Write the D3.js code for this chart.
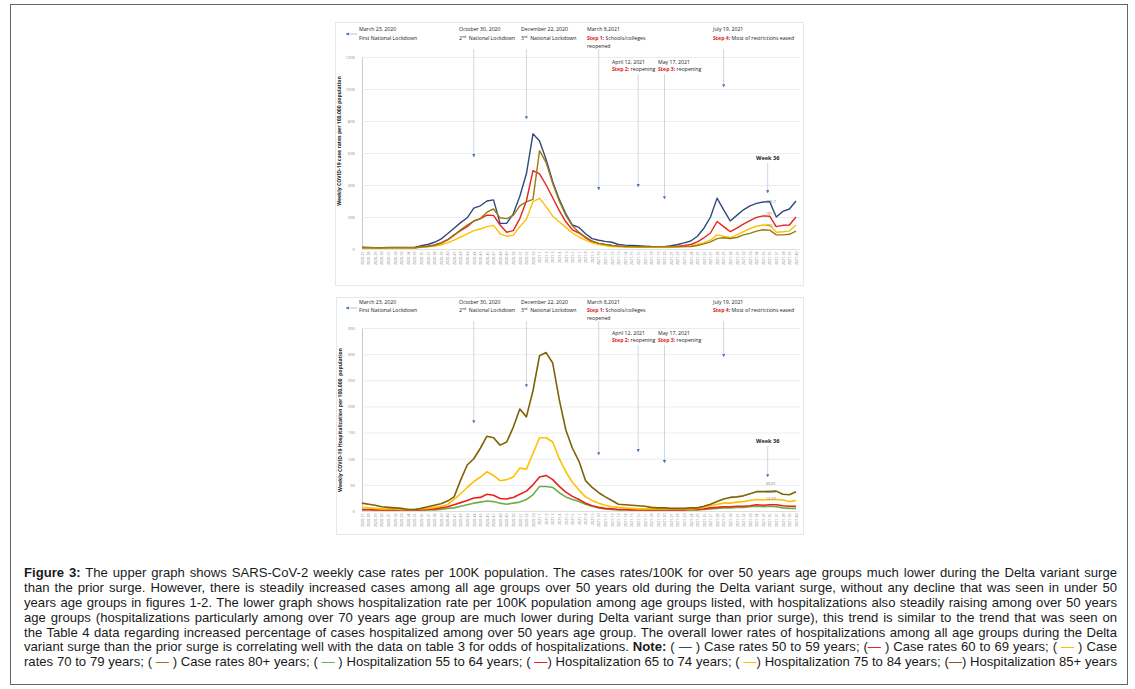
<!DOCTYPE html>
<html>
<head>
<meta charset="utf-8">
<script src="https://cdn.jsdelivr.net/npm/d3@7"></script>
<style>
  body { margin: 0; background: #fff; }
  svg { display: block; }
  .anno { font-family: "Open Sans", sans-serif; font-size: 5.2px; fill: #1a1a1a; }
  .cap { font-family: "Liberation Sans", Arial, sans-serif; font-size: 13px; fill: #1a1a1a; white-space: pre; }
</style>
</head>
<body>
<svg id="fig" width="1135" height="689"></svg>
<script>
// week categories 2020-27 .. 2021-40
const weeks = [
  ...d3.range(27, 54).map((w) => `2020-${w}`),
  ...d3.range(1, 41).map((w) => `2021-${w}`)
];

// upper graph: weekly case rates per 100K
const case50_59 = [12,10,8,8,9,10,9,9,10, 20,28,42,62,95,130,165,195,255,270,300,307,
  160,160,220,330,470,720,675,560,420,310,220,150,135,95,65,55,48,42,
  28,24,22,20,18,16,15,15,20,28,38,50,
  80,130,200,318,245,175,210,245,270,285,294,296,200,235,250,300];
const case60_69 = [8,7,6,6,7,8,7,7,8, 14,18,25,38,58,88,115,140,175,190,212,210,
  150,105,115,190,300,490,470,400,320,240,170,120,100,70,45,35,28,22,
  18,15,14,13,12,12,12,13,15,18,22,28,
  45,70,100,172,140,108,130,155,178,198,207,205,140,148,150,200];
const case70_79 = [6,5,4,4,5,6,5,5,6, 10,14,18,25,38,55,75,95,115,125,140,148,
  95,80,85,140,186,296,317,265,205,170,135,100,75,55,38,28,22,16,
  13,12,11,10,10,10,10,11,12,14,16,18,
  28,40,55,88,80,70,88,108,128,142,150,148,105,108,112,150];
const case80plus = [8,7,6,6,7,8,7,7,8, 12,16,22,35,55,85,120,150,175,190,230,250,
  195,190,210,270,295,310,615,540,410,300,210,145,105,75,50,35,28,22,
  18,16,15,14,14,13,13,13,13,14,15,16,
  22,32,45,65,70,66,72,88,98,112,120,118,88,88,92,112];

// lower graph: weekly hospitalization per 100K
const hosp55_64 = [2,2,2,2,2,2,2,2,2,2,2,2,
  3,5,6,9,12,15,17,19,18,15,13,15,17,22,31,47,47,45,35,27,22,18,13,9,6,4,3,2,
  2,2,2,2,2,2,2,2,2,2,2,2,
  3,4,5,6,6,7,7,8,9,8,9,8,6,5,5];
const hosp65_74 = [3,3,2,2,2,2,2,2,2,2,3,
  4,6,8,12,16,20,25,26,32,30,24,23,26,32,38,50,65,68,60,47,36,28,22,15,10,7,5,4,3,3,
  2,2,2,2,2,2,2,2,2,3,
  3,4,6,7,8,8,9,9,10,12,11,12,12,10,9,9];
const hosp75_84 = [7,6,5,4,4,4,3,3,3,4,5,7,9,
  12,22,33,45,56,65,75,68,58,60,65,82,80,110,140,140,132,100,75,55,40,27,20,15,11,8,7,6,5,
  4,4,4,4,4,4,4,4,4,
  5,7,10,13,15,15,17,18,20,22,21,22,22,21,18,20];
const hosp85plus = [15,13,11,8,7,6,5,3,3,5,8,11,14,
  19,27,59,88,100,120,143,140,126,132,160,195,180,230,297,303,283,213,155,120,95,58,45,35,27,20,
  13,12,11,10,9,7,6,6,5,5,5,6,
  6,9,13,18,23,26,27,29,33,37,37,37,38,32,31,37];

const caseTicks = d3.range(0, 1201, 200);
const hospTicks = d3.range(0, 351, 50);

// policy events: where each arrow ends (case chart value, hospital chart value)
const events = [
  { week: null, date: "March 23, 2020", label: [{ t: "First National Lockdown" }], tx: 359, row: 0 },
  { week: "2020-44", date: "October 30, 2020", label: [{ t: "2" }, { t: "nd", sup: true }, { t: "  National Lockdown" }], tx: 459, row: 0, caseEnd: 575, hospEnd: 168 },
  { week: "2020-52", date: "December 22, 2020", label: [{ t: "3" }, { t: "rd", sup: true }, { t: "  National Lockdown" }], tx: 521, row: 0, caseEnd: 812, hospEnd: 237 },
  { week: "2021-10", date: "March 8,2021", label: [{ t: "Step 1:", red: true }, { t: " Schools/colleges" }], extra: "reopened", tx: 587, row: 0, caseEnd: 369, hospEnd: 107 },
  { week: "2021-16", date: "April 12, 2021", label: [{ t: "Step 2:", red: true }, { t: " reopening" }], tx: 612, row: 1, caseEnd: 388, hospEnd: 113 },
  { week: "2021-20", date: "May 17, 2021", label: [{ t: "Step 3:", red: true }, { t: " reopening" }], tx: 658, row: 1, caseEnd: 312, hospEnd: 92 },
  { week: "2021-29", date: "July 19, 2021", label: [{ t: "Step 4:", red: true }, { t: " Most of restrictions eased" }], tx: 713, row: 0, caseEnd: 1012, hospEnd: 295 }
];
const week36 = "2021-36";
const caseWeek36Labels = ["295.7", "181.6", "150.3"];
const hospWeek36Labels = ["39.01", "22.45", "12.27"];

const NAVY = "#2f4b7c", RED = "#e8231d", YELLOW = "#ffc000", OLIVE = "#9a7a12", OLIVE_D = "#7e6205", GREEN = "#70ad47";

const svg = d3.select("#fig");

svg.append("rect")
  .attr("x", 10.5).attr("y", 4.5).attr("width", 1117).attr("height", 680)
  .attr("fill", "none").attr("stroke", "#666").attr("stroke-width", 1);

const defs = svg.append("defs");
defs.append("marker")
  .attr("id", "ah").attr("viewBox", "0 0 10 10").attr("refX", 9).attr("refY", 5)
  .attr("markerWidth", 3.2).attr("markerHeight", 3.2).attr("markerUnits", "userSpaceOnUse")
  .attr("orient", "auto")
  .append("path").attr("d", "M0,0L10,5L0,10z").attr("fill", "#4676b4");

const x = d3.scalePoint().domain(weeks).range([362, 796]);

const panels = [
  {
    frame: [335, 22, 468, 263], y0: 249, y1: 57, ticks: caseTicks, lw: 1.4,
    title: "Weekly COVID-19 case rates per 100,000 population", titleX: 341, titleY: 141,
    series: [
      { v: case50_59, c: NAVY }, { v: case60_69, c: RED }, { v: case70_79, c: YELLOW }, { v: case80plus, c: OLIVE }
    ],
    rows: [[31, 39.5, 47.5], [63.5, 71]], lineTop: [49, 74], endKey: "caseEnd", arrowY: 34,
    weekTextY: 160, weekLineTop: 163, weekEnd: 350,
    labels: caseWeek36Labels, labelDy: [1.5, -1, 1.5]
  },
  {
    frame: [336, 297, 467, 237], y0: 511, y1: 328, ticks: hospTicks, lw: 1.6,
    title: "Weekly COVID-19 Hospitalization per 100,000  population", titleX: 342, titleY: 420,
    series: [
      { v: hosp55_64, c: GREEN }, { v: hosp65_74, c: RED }, { v: hosp75_84, c: YELLOW }, { v: hosp85plus, c: OLIVE_D }
    ],
    rows: [[304, 312, 320], [334.5, 342]], lineTop: [321, 345], endKey: "hospEnd", arrowY: 308,
    weekTextY: 442.5, weekLineTop: 446, weekEnd: 65,
    labels: hospWeek36Labels, labelOf: [3, 2, 1], labelDy: [-7, -6, -5]
  }
];

panels.forEach((p) => {
  const g = svg.append("g");
  const yMax = p.ticks[p.ticks.length - 1];
  const y = d3.scaleLinear().domain([0, yMax]).range([p.y0, p.y1]);

  g.append("rect")
    .attr("x", p.frame[0] + 0.5).attr("y", p.frame[1] + 0.5)
    .attr("width", p.frame[2]).attr("height", p.frame[3])
    .attr("fill", "none").attr("stroke", "#e6e9ec").attr("stroke-width", 1);

  // y axis with gridlines
  const ya = g.append("g")
    .attr("transform", "translate(362,0)")
    .call(d3.axisLeft(y).tickValues(p.ticks).tickFormat(d3.format("d"))
      .tickSize(-438).tickSizeOuter(0).tickPadding(7));
  ya.select(".domain").attr("stroke", "#bdbdbd").attr("stroke-width", 0.8);
  ya.selectAll(".tick line").attr("stroke", "#e4e4e4").attr("stroke-width", 0.7);
  ya.selectAll(".tick text").attr("fill", "#8a8a8a").style("font-family", "Open Sans").style("font-size", "4.2px");

  // x axis, rotated labels
  const xa = g.append("g")
    .attr("transform", `translate(0,${p.y0})`)
    .call(d3.axisBottom(x).tickSize(0).tickSizeOuter(0));
  xa.select(".domain").attr("stroke", "#d8d8d8").attr("stroke-width", 0.7);
  xa.selectAll(".tick text")
    .attr("transform", "rotate(-90)")
    .attr("x", -2.5).attr("y", 0).attr("dy", "0.35em")
    .attr("text-anchor", "end")
    .attr("fill", "#8a8a8a")
    .style("font-family", "Open Sans").style("font-size", "3.6px");

  g.append("text")
    .attr("transform", `translate(${p.titleX},${p.titleY}) rotate(-90)`)
    .attr("text-anchor", "middle")
    .style("font-family", "Open Sans").style("font-size", "5.1px").style("font-weight", "700")
    .attr("fill", "#222")
    .style("white-space", "pre")
    .text(p.title);

  const line = d3.line().x((d, i) => x(weeks[i])).y((d) => y(d)).curve(d3.curveLinear);
  p.series.forEach((s) => {
    g.append("path")
      .attr("d", line(s.v))
      .attr("fill", "none")
      .attr("stroke", s.c)
      .attr("stroke-width", p.lw)
      .attr("stroke-linejoin", "round");
  });

  // event annotations
  events.forEach((e) => {
    const rows = p.rows[e.row];
    g.append("text").attr("class", "anno").attr("x", e.tx).attr("y", rows[0]).text(e.date);
    const t2 = g.append("text").attr("class", "anno").attr("x", e.tx).attr("y", rows[1]).style("white-space", "pre");
    e.label.forEach((seg) => {
      const ts = t2.append("tspan").text(seg.t);
      if (seg.red) ts.attr("fill", "#e02020").style("font-weight", "700");
      if (seg.sup) ts.attr("dy", -1.8).style("font-size", "3.4px");
      else if (seg.t.startsWith("  ")) ts.attr("dy", 1.8);
    });
    if (e.extra) g.append("text").attr("class", "anno").attr("x", e.tx).attr("y", rows[2]).text(e.extra);

    if (e.week === null) {
      g.append("line")
        .attr("x1", 357).attr("x2", 346).attr("y1", p.arrowY).attr("y2", p.arrowY)
        .attr("stroke", "#7f9cc4").attr("stroke-width", 0.6).attr("marker-end", "url(#ah)");
    } else {
      g.append("line")
        .attr("x1", x(e.week)).attr("x2", x(e.week))
        .attr("y1", p.lineTop[e.row]).attr("y2", y(e[p.endKey]))
        .attr("stroke", "#a9bcd2").attr("stroke-width", 0.6).attr("marker-end", "url(#ah)");
    }
  });

  // week 36 callout
  g.append("text").attr("class", "anno")
    .attr("x", x(week36) - 2).attr("y", p.weekTextY)
    .attr("text-anchor", "middle").style("font-weight", "700").style("font-size", "5.6px")
    .text("Week 36");
  g.append("line")
    .attr("x1", x(week36) - 2).attr("x2", x(week36) - 2)
    .attr("y1", p.weekLineTop).attr("y2", y(p.weekEnd))
    .attr("stroke", "#a9bcd2").attr("stroke-width", 0.6).attr("marker-end", "url(#ah)");

  const i36 = weeks.indexOf(week36);
  p.labels.forEach((txt, k) => {
    const s = p.series[p.labelOf ? p.labelOf[k] : k];
    g.append("text")
      .attr("x", x(week36) - 4).attr("y", y(s.v[i36]) + p.labelDy[k])
      .attr("fill", "#7a7a7a")
      .style("font-family", "Open Sans").style("font-size", "3.9px")
      .text(txt);
  });
});

// caption, justified
const captionLines = [
  [{ t: "Figure 3:", b: 1 }, { t: " The upper graph shows SARS-CoV-2 weekly case rates per 100K population. The cases rates/100K for over 50 years age groups much lower during the Delta variant surge" }],
  [{ t: "than the prior surge. However, there is steadily increased cases among all age groups over 50 years old during the Delta variant surge, without any decline that was seen in under 50" }],
  [{ t: "years age groups in figures 1-2. The lower graph shows hospitalization rate per 100K population among age groups listed, with hospitalizations also steadily raising among over 50 years" }],
  [{ t: "age groups (hospitalizations particularly among over 70 years age group are much lower during Delta variant surge than prior surge), this trend is similar to the trend that was seen on" }],
  [{ t: "the Table 4 data regarding increased percentage of cases hospitalized among over 50 years age group. The overall lower rates of hospitalizations among all age groups during the Delta" }],
  [{ t: "variant surge than the prior surge is correlating well with the data on table 3 for odds of hospitalizations. " }, { t: "Note:", b: 1 },
   { t: " ( " }, { t: "—", c: NAVY }, { t: " ) Case rates 50 to 59 years; (" }, { t: "—", c: RED }, { t: " ) Case rates 60 to 69 years; ( " }, { t: "—", c: YELLOW }, { t: " ) Case" }],
  [{ t: "rates 70 to 79 years; ( " }, { t: "—", c: OLIVE }, { t: " ) Case rates 80+ years; ( " }, { t: "—", c: GREEN }, { t: " ) Hospitalization 55 to 64 years; ( " },
   { t: "—", c: RED }, { t: ") Hospitalization 65 to 74 years; ( " }, { t: "—", c: YELLOW }, { t: ") Hospitalization 75 to 84 years; (" }, { t: "—", c: OLIVE_D }, { t: ") Hospitalization 85+ years" }]
];

const capLeft = 24, capWidth = 1094, capTop = 577, capStep = 14.9;
const cap = svg.append("g");
const capTexts = captionLines.map((segs, i) => {
  const t = cap.append("text").attr("class", "cap").attr("x", 0).attr("y", capTop + i * capStep);
  segs.forEach((s) => {
    const ts = t.append("tspan").text(s.t);
    if (s.b) ts.style("font-weight", "700");
    if (s.c) ts.attr("fill", s.c);
  });
  return t;
});
const natural = capTexts.map((t) => t.node().getComputedTextLength());
const maxW = d3.max(natural);
const sx = (capWidth - 4) / maxW;
cap.attr("transform", `translate(${capLeft},0) scale(${sx},1)`);
capTexts.forEach((t, i) => {
  const spaces = captionLines[i].map((s) => s.t).join("").split(" ").length - 1;
  const extra = (capWidth / sx - natural[i]) / spaces;
  t.style("word-spacing", `${extra}px`);
});
</script>
</body>
</html>
